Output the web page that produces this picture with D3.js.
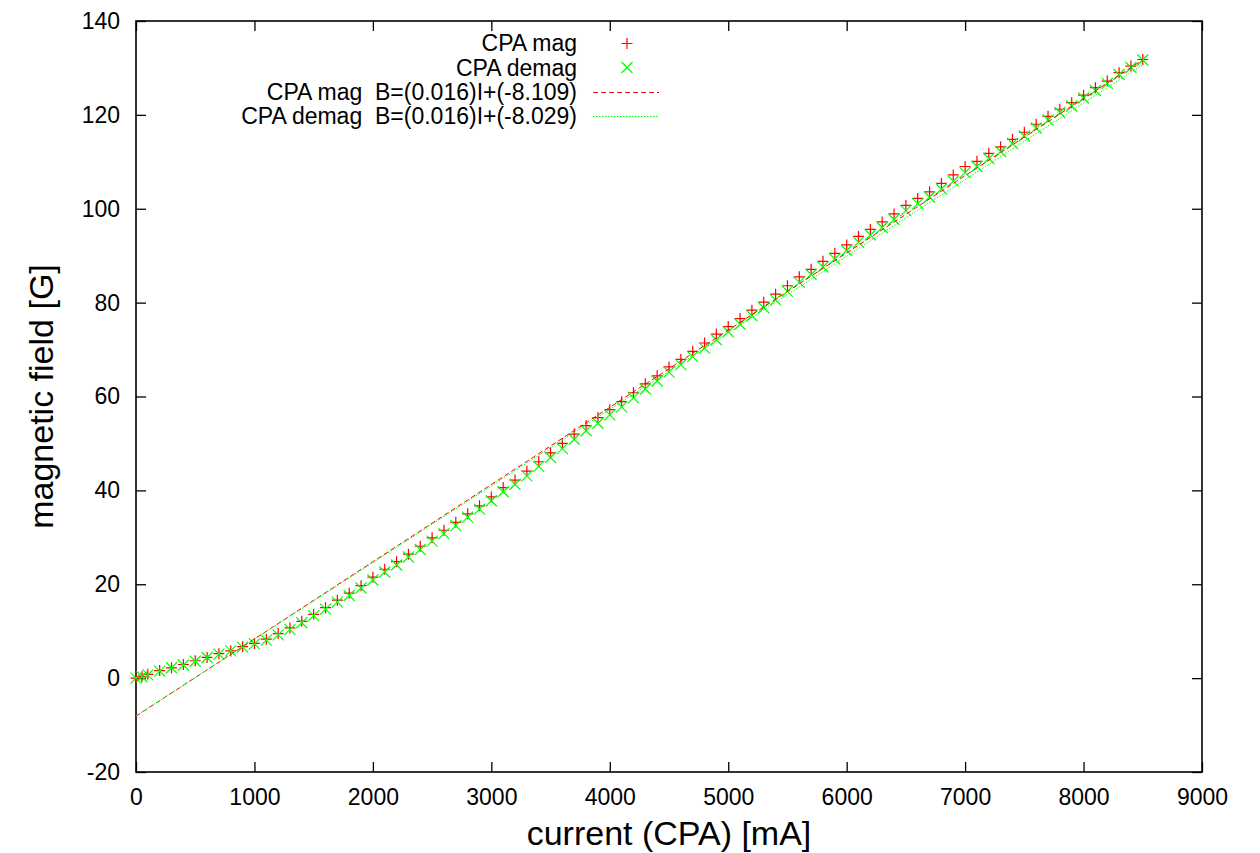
<!DOCTYPE html>
<html>
<head>
<meta charset="utf-8">
<script src="https://cdn.jsdelivr.net/npm/d3@7"></script>
<style>
  html, body { margin: 0; padding: 0; background: #fff; }
  svg { display: block; }
  text { font-family: "Liberation Sans", Arial, Helvetica, sans-serif; fill: #000; }
</style>
</head>
<body>
<svg id="chart" width="1260" height="853"></svg>
<script>
// Coil current (mA) for each measurement
const currentMA = [0, 50, 100, 200, 300, 400, 500, 600, 700, 800, 900, 1000,
  1100, 1200, 1300, 1400, 1500, 1600, 1700, 1800, 1900, 2000,
  2100, 2200, 2300, 2400, 2500, 2600, 2700, 2800, 2900, 3000,
  3100, 3200, 3300, 3400, 3500, 3600, 3700, 3800, 3900, 4000,
  4100, 4200, 4300, 4400, 4500, 4600, 4700, 4800, 4900, 5000,
  5100, 5200, 5300, 5400, 5500, 5600, 5700, 5800, 5900, 6000,
  6100, 6200, 6300, 6400, 6500, 6600, 6700, 6800, 6900, 7000,
  7100, 7200, 7300, 7400, 7500, 7600, 7700, 7800, 7900, 8000,
  8100, 8200, 8300, 8400, 8500];

// Field (G) while ramping up
const fieldMag = [0.0, 0.3, 0.8, 1.6, 2.2, 2.9, 3.7, 4.4, 5.2, 5.8, 6.7, 7.4,
  8.3, 9.5, 10.7, 12.1, 13.6, 15.0, 16.6, 18.1, 19.7, 21.5,
  23.2, 24.8, 26.4, 28.1, 29.9, 31.5, 33.2, 35.0, 36.7, 38.6,
  40.6, 42.2, 44.1, 46.1, 48.0, 50.0, 52.0, 53.8, 55.5, 57.2,
  58.9, 60.8, 62.7, 64.4, 66.3, 67.9, 69.6, 71.4, 73.3, 74.9,
  76.6, 78.4, 80.1, 81.8, 83.6, 85.5, 87.1, 88.8, 90.5, 92.3,
  94.1, 95.6, 97.2, 98.9, 100.7, 102.2, 103.6, 105.4, 107.2, 109.0,
  110.1, 111.8, 113.2, 114.8, 116.3, 118.0, 119.7, 121.2, 122.6, 124.2,
  125.8, 127.2, 129.0, 130.4, 131.8];

// Field (G) while ramping down
const fieldDemag = [0.0, 0.3, 0.7, 1.5, 2.2, 2.8, 3.6, 4.4, 5.1, 5.8, 6.6, 7.3,
  8.1, 9.2, 10.4, 11.8, 13.3, 14.7, 16.2, 17.6, 19.2, 20.9,
  22.6, 24.1, 25.8, 27.4, 29.2, 30.8, 32.5, 34.3, 36.0, 37.8,
  39.7, 41.3, 43.1, 45.1, 47.0, 48.9, 50.9, 52.7, 54.3, 56.1,
  57.8, 59.7, 61.6, 63.3, 65.2, 66.8, 68.5, 70.3, 72.1, 73.8,
  75.4, 77.2, 78.9, 80.6, 82.4, 84.3, 86.0, 87.6, 89.3, 91.1,
  92.9, 94.4, 96.0, 97.7, 99.6, 101.1, 102.5, 104.2, 105.9, 107.7,
  109.0, 110.7, 112.2, 113.9, 115.5, 117.2, 118.9, 120.5, 121.9, 123.6,
  125.2, 126.7, 128.6, 130.1, 131.7];

// Linear fit B = slope*I + intercept for each ramp
const fitNames = ["CPA mag", "CPA demag"];
const fitSlope = [0.01645, 0.01632];
const fitIntercept = [-8.109, -8.029];
const fitRange = [0, 8500];

const xTicks = [0, 1000, 2000, 3000, 4000, 5000, 6000, 7000, 8000, 9000];
const yTicks = [-20, 0, 20, 40, 60, 80, 100, 120, 140];

const svg = d3.select("#chart");
const plot = { left: 136, right: 1202, top: 21, bottom: 772 };

const x = d3.scaleLinear().domain([0, 9000]).range([plot.left, plot.right]);
const y = d3.scaleLinear().domain([-20, 140]).range([plot.bottom, plot.top]);

// Plain ASCII hyphen for negatives, no grouping separators
const locale = d3.formatLocale({ decimal: ".", thousands: "", grouping: [3], currency: ["", ""], minus: "-" });
const intFmt = locale.format("d");
const fmt = locale.format(".3f");

const tickLen = 10;
const fontSize = 23;

// Axes: tick marks on all four sides, pointing inwards
const axisBottom = d3.axisBottom(x).tickValues(xTicks).tickSizeInner(-tickLen).tickSizeOuter(0).tickPadding(17).tickFormat(intFmt);
const axisTop = d3.axisTop(x).tickValues(xTicks).tickSizeInner(-tickLen).tickSizeOuter(0).tickFormat("");
const axisLeft = d3.axisLeft(y).tickValues(yTicks).tickSizeInner(-tickLen).tickSizeOuter(0).tickPadding(16).tickFormat(intFmt);
const axisRight = d3.axisRight(y).tickValues(yTicks).tickSizeInner(-tickLen).tickSizeOuter(0).tickFormat("");

function styleAxis(g) {
  g.select(".domain").remove();
  g.selectAll(".tick line").attr("stroke", "#000").attr("stroke-width", 1.3);
  g.selectAll(".tick text")
    .attr("font-size", fontSize)
    .attr("font-family", "'Liberation Sans', Arial, Helvetica, sans-serif")
    .attr("fill", "#000");
}

svg.append("g").attr("transform", `translate(0,${plot.bottom})`).call(axisBottom).call(styleAxis);
svg.append("g").attr("transform", `translate(0,${plot.top})`).call(axisTop).call(styleAxis);
svg.append("g").attr("transform", `translate(${plot.left},0)`).call(axisLeft).call(styleAxis);
svg.append("g").attr("transform", `translate(${plot.right},0)`).call(axisRight).call(styleAxis);

// Frame
svg.append("rect")
  .attr("x", plot.left).attr("y", plot.top)
  .attr("width", plot.right - plot.left).attr("height", plot.bottom - plot.top)
  .attr("fill", "none").attr("stroke", "#000").attr("stroke-width", 1.6);

// Axis titles
svg.append("text")
  .attr("x", (plot.left + plot.right) / 2).attr("y", 845)
  .attr("text-anchor", "middle").attr("font-size", 34)
  .text("current (CPA) [mA]");

svg.append("text")
  .attr("transform", `translate(53,${(plot.top + plot.bottom) / 2}) rotate(-90)`)
  .attr("text-anchor", "middle").attr("font-size", 34)
  .text("magnetic field [G]");

const red = "#ff0000";
const green = "#00ff00";
const half = 5.5;

function plusPath(cx, cy, s) {
  return `M${cx - s},${cy}H${cx + s}M${cx},${cy - s}V${cy + s}`;
}
function crossPath(cx, cy, s) {
  return `M${cx - s},${cy - s}L${cx + s},${cy + s}M${cx - s},${cy + s}L${cx + s},${cy - s}`;
}

svg.append("defs").append("clipPath").attr("id", "plotArea")
  .append("rect").attr("x", plot.left).attr("y", plot.top)
  .attr("width", plot.right - plot.left).attr("height", plot.bottom - plot.top);

const area = svg.append("g");

// Ramp-up measurements
area.append("g").selectAll("path")
  .data(currentMA.map((c, i) => [c, fieldMag[i]]))
  .join("path")
  .attr("d", d => plusPath(x(d[0]), y(d[1]), half))
  .attr("stroke", red).attr("stroke-width", 1.2).attr("fill", "none");

// Ramp-down measurements
area.append("g").selectAll("path")
  .data(currentMA.map((c, i) => [c, fieldDemag[i]]))
  .join("path")
  .attr("d", d => crossPath(x(d[0]), y(d[1]), half))
  .attr("stroke", green).attr("stroke-width", 1.2).attr("fill", "none");

// Fit lines
const fitColors = [red, green];
const fitDash = ["5,3", "1.5,1.5"];
const line = d3.line().x(d => x(d[0])).y(d => y(d[1]));
fitSlope.forEach((m, k) => {
  const pts = fitRange.map(c => [c, m * c + fitIntercept[k]]);
  area.append("path")
    .attr("d", line(pts))
    .attr("clip-path", "url(#plotArea)")
    .attr("fill", "none").attr("stroke", fitColors[k])
    .attr("stroke-width", 1).attr("stroke-dasharray", fitDash[k]);
});

// Legend
const legendRows = [
  { label: "CPA mag", kind: "plus" },
  { label: "CPA demag", kind: "cross" },
  { label: `${fitNames[0]}  B=(${fmt(fitSlope[0])})I+(${fmt(fitIntercept[0])})`, kind: "line", k: 0 },
  { label: `${fitNames[1]}  B=(${fmt(fitSlope[1])})I+(${fmt(fitIntercept[1])})`, kind: "line", k: 1 }
];
const legendTextX = 577, legendSampleX = 627, legendY0 = 43, legendDy = 24.3;
const legend = svg.append("g");
legendRows.forEach((r, i) => {
  const cy = legendY0 + i * legendDy;
  legend.append("text")
    .attr("x", legendTextX).attr("y", cy)
    .attr("dy", "0.36em")
    .attr("text-anchor", "end").attr("font-size", fontSize)
    .style("white-space", "pre")
    .text(r.label);
  // snap sample strokes to the pixel grid so thin lines stay crisp
  const sy = Math.round(cy) + 0.5;
  if (r.kind === "plus") {
    legend.append("path").attr("d", plusPath(legendSampleX, sy, half))
      .attr("stroke", red).attr("stroke-width", 1.2);
  } else if (r.kind === "cross") {
    legend.append("path").attr("d", crossPath(legendSampleX, sy, half))
      .attr("stroke", green).attr("stroke-width", 1.2);
  } else {
    legend.append("line")
      .attr("x1", 593).attr("x2", 659).attr("y1", sy).attr("y2", sy)
      .attr("stroke", fitColors[r.k]).attr("stroke-width", 1)
      .attr("stroke-dasharray", fitDash[r.k]);
  }
});
</script>
</body>
</html>
